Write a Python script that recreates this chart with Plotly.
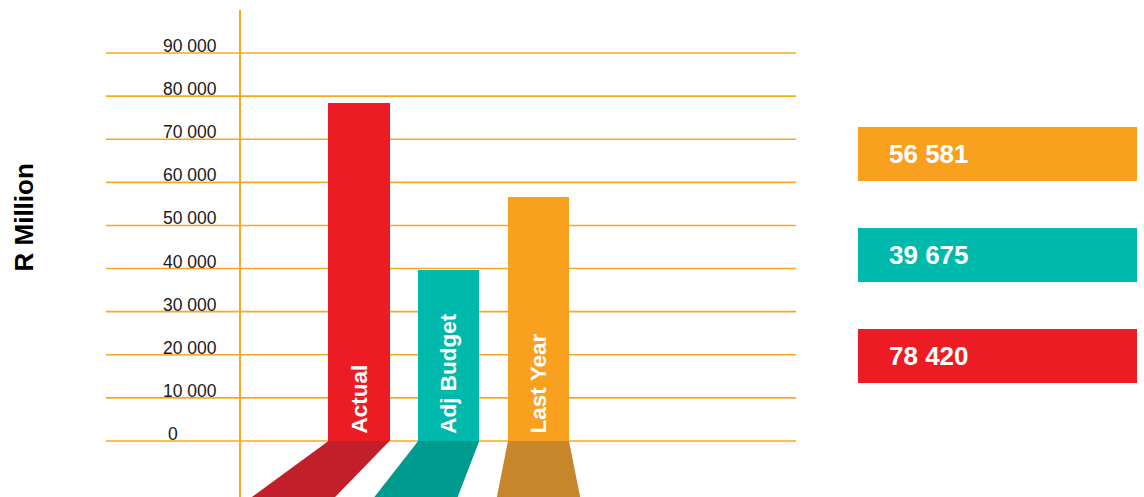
import plotly.graph_objects as go

# Revenue comparison (R Million)
categories = ["Actual", "Adj Budget", "Last Year"]
values = [78420, 39675, 56581]
bar_colors = ["#ED1C24", "#00B9AD", "#F9A01E"]
floor_colors = ["#C1202A", "#009B8F", "#C8862A"]
tick_values = [0, 10000, 20000, 30000, 40000, 50000, 60000, 70000, 80000, 90000]

W, H = 1144, 497
GRID = "#F7A823"
FONT = "Liberation Sans, Arial, sans-serif"
Y_MIN, Y_MAX = -13000, 102300
X_MIN, X_MAX = -4.0, 8.7465
BAR_W = 0.68


def fmt(v):
    return f"{v:,}".replace(",", " ")


def px_x(p):
    return p / W


def px_y(p):
    return 1 - p / H


fig = go.Figure()

# perspective "floor" strips below each bar
vanish_x = 2.0
spread = 0.365
for i, c in enumerate(floor_colors):
    left, right = i - BAR_W / 2, i + BAR_W / 2
    bl = left + spread * (left - vanish_x)
    br = right + spread * (right - vanish_x)
    fig.add_trace(go.Scatter(
        x=[left, right, br, bl, left], y=[0, 0, Y_MIN, Y_MIN, 0],
        fill="toself", fillcolor=c, mode="lines", line=dict(width=0),
        hoverinfo="skip", showlegend=False))

fig.add_trace(go.Bar(
    x=list(range(len(categories))), y=values, width=BAR_W,
    marker=dict(color=bar_colors, line=dict(width=0)),
    hovertext=categories, showlegend=False))

shapes = []
for t in tick_values:
    shapes.append(dict(type="line", xref="paper", yref="y",
                       x0=px_x(106), x1=px_x(796), y0=t, y1=t,
                       line=dict(color=GRID, width=1.6), layer="below"))
shapes.append(dict(type="line", xref="paper", yref="paper",
                   x0=px_x(240), x1=px_x(240), y0=px_y(10), y1=0,
                   line=dict(color=GRID, width=2), layer="below"))

annotations = []
for t in tick_values:
    label = fmt(t)
    annotations.append(dict(
        xref="paper", yref="y", x=px_x(161 if len(label) > 1 else 166), y=t,
        xanchor="left", yanchor="bottom", yshift=-5, showarrow=False,
        text=label, font=dict(family=FONT, size=17.5, color="#1a1a1a")))

for i, name in enumerate(categories):
    annotations.append(dict(
        xref="x", yref="y", x=i, y=0, xanchor="center", yanchor="bottom",
        yshift=5, textangle=-90, showarrow=False, text=f"<b>{name}</b>",
        font=dict(family=FONT, size=22.5, color="white")))

annotations.append(dict(
    xref="paper", yref="paper", x=px_x(24), y=px_y(217.5),
    xanchor="center", yanchor="middle", textangle=-90, showarrow=False,
    text="<b>R Million</b>", font=dict(family=FONT, size=26, color="black")))

# value boxes on the right, top to bottom: Last Year, Adj Budget, Actual
box_tops = [127, 228, 329]
for top, idx in zip(box_tops, [2, 1, 0]):
    shapes.append(dict(type="rect", xref="paper", yref="paper",
                       x0=px_x(858), x1=px_x(1137), y0=px_y(top), y1=px_y(top + 54),
                       fillcolor=bar_colors[idx], line=dict(width=0)))
    annotations.append(dict(
        xref="paper", yref="paper", x=px_x(887), y=px_y(top + 27),
        xanchor="left", yanchor="middle", showarrow=False,
        text=f"<b>{fmt(values[idx])}</b>",
        font=dict(family=FONT, size=26, color="white")))

fig.update_layout(
    width=W, height=H, margin=dict(l=0, r=0, t=0, b=0),
    paper_bgcolor="white", plot_bgcolor="white",
    xaxis=dict(range=[X_MIN, X_MAX], domain=[0, 1], visible=False, fixedrange=True),
    yaxis=dict(range=[Y_MIN, Y_MAX], domain=[0, 1], visible=False, fixedrange=True),
    shapes=shapes, annotations=annotations, bargap=0, showlegend=False)

fig.write_html("out.html")
